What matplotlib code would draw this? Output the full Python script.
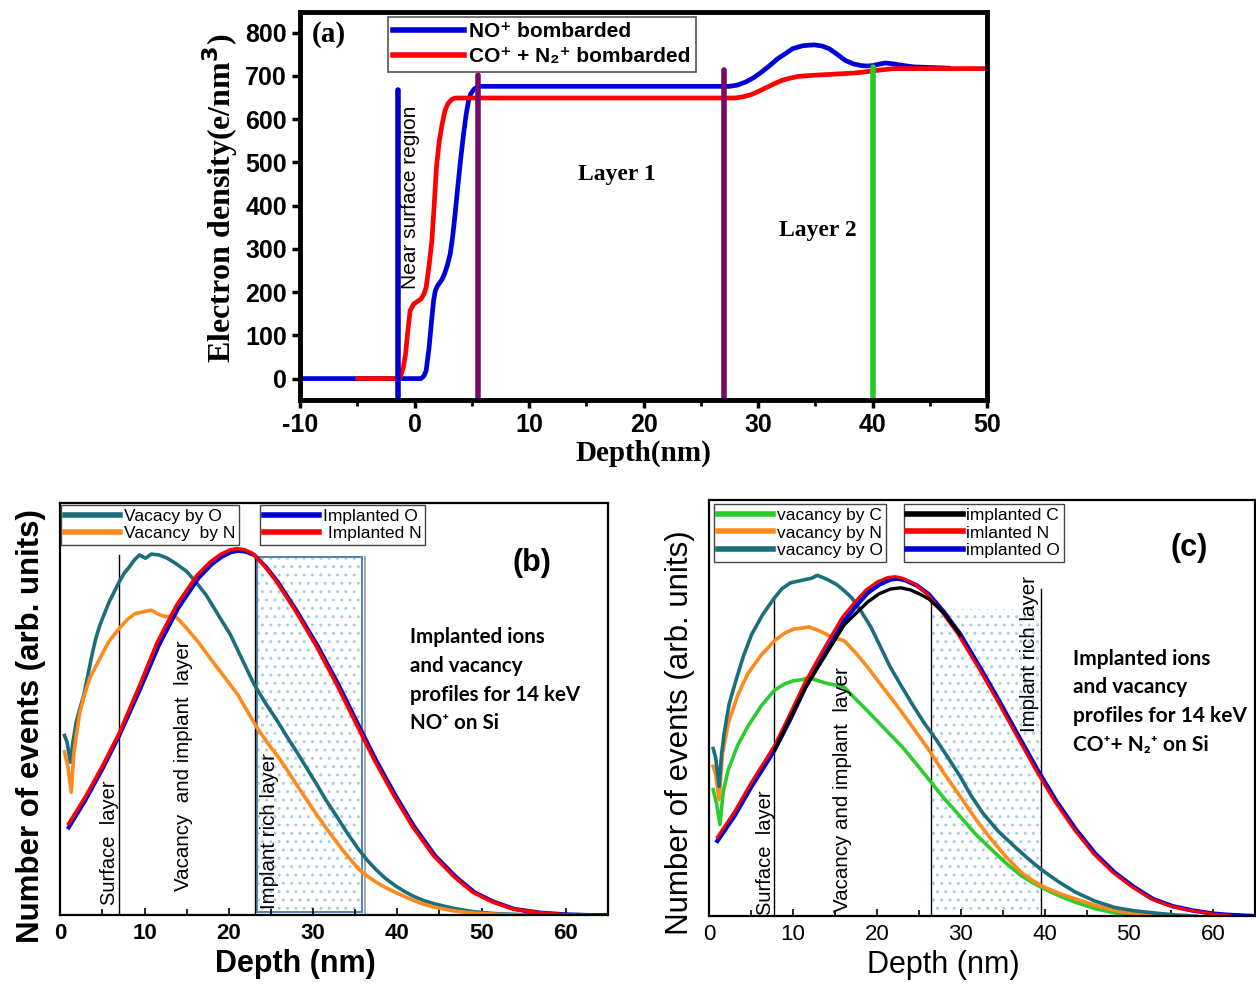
import matplotlib
matplotlib.use("Agg")
import matplotlib.pyplot as plt
from matplotlib.patches import Rectangle
from matplotlib.lines import Line2D

plt.rcParams['font.family'] = ['Liberation Sans', 'DejaVu Sans']
plt.rcParams['hatch.linewidth'] = 1.0
plt.rcParams['axes.unicode_minus'] = False

# ---------------- panel (a) data : electron density vs depth ----------------
a_x_no = [-10, 0.55, 0.8, 1.0, 1.25, 1.5, 1.65, 1.8, 2.0, 2.2, 2.4, 2.6, 2.85, 3.1, 3.3, 3.5,
          3.75, 4.0, 4.25, 4.5, 4.7, 4.9, 5.2, 5.6, 27.5, 28.2, 28.9, 29.6, 30.3, 31.0, 31.7,
          32.4, 33.0, 33.9, 34.9, 35.6, 36.2, 36.9, 37.6, 38.3, 39.0, 39.5, 40.0, 40.5, 41.1,
          41.8, 42.7, 43.6, 44.6, 46.7]
a_y_no = [0, 0, 6, 18, 70, 141, 180, 203, 215, 222, 230, 242, 262, 288, 325, 373,
          440, 504, 562, 612, 642, 659, 670, 676, 676, 679, 686, 696, 709, 724, 740,
          752, 763, 770, 772, 769, 763, 750, 736, 728, 724, 723, 724, 727, 730,
          728, 724, 721, 720, 718]
a_x_co = [-5, -1.3, -1.0, -0.8, -0.6, -0.4, -0.1, 0.1, 0.55, 0.8, 1.0, 1.25, 1.5, 1.7, 1.9,
          2.15, 2.4, 2.65, 2.9, 3.2, 3.5, 28.0, 28.7, 29.4, 30.0, 30.7, 31.4, 32.1, 32.8,
          33.5, 34.5, 35.8, 37.2, 38.5, 39.5, 40.4, 41.1, 41.8, 50]
a_y_co = [0, 0, 25, 56, 110, 157, 172, 176, 184, 195, 211, 260, 319, 400, 489,
          550, 589, 620, 636, 645, 649, 649, 652, 657, 664, 673, 682, 690, 695,
          699, 701, 703, 705, 707, 710, 713, 715, 717, 717]
a_vlines_x = [-1.5, 5.5, 27.0, 40.0]
a_vlines_top = [668, 702, 713, 720]
a_vlines_col = ['#0000cc', '#7a0a6a', '#7a0a6a', '#22cc22']

# ---------------- panel (b) data : NO+ on Si ----------------
b_x_vo = [0.5, 0.8, 1.2, 1.5, 1.9, 2.3, 2.8, 3.3, 3.8, 4.2, 4.7, 5.8, 7.0, 7.6, 8.2, 8.8, 9.4,
          10.1, 10.8, 11.7, 12.7, 13.8, 15.0, 16.1, 17.3, 18.7, 20.2, 21.6, 23.0, 24.4, 25.8,
          27.0, 28.1, 29.3, 30.5, 31.6, 32.8, 34.1, 35.4, 36.4, 37.5, 38.6, 39.8, 40.9, 42.0,
          43.2, 44.5, 46.8, 49.2, 51.5, 53.9, 57.0, 60.0]
b_y_vo = [0.436, 0.42, 0.371, 0.42, 0.469, 0.5, 0.534, 0.585, 0.635, 0.67, 0.704, 0.76, 0.809,
          0.83, 0.845, 0.862, 0.874, 0.866, 0.876, 0.874, 0.866, 0.852, 0.834, 0.808, 0.777,
          0.73, 0.680, 0.62, 0.56, 0.513, 0.47, 0.43, 0.395, 0.355, 0.315, 0.277, 0.24, 0.198,
          0.16, 0.134, 0.11, 0.089, 0.071, 0.057, 0.045, 0.035, 0.027, 0.016, 0.008, 0.004,
          0.002, 0.001, 0.0]
b_x_vn = [0.5, 0.9, 1.3, 1.6, 1.9, 2.3, 2.8, 3.5, 4.7, 5.8, 7.0, 8.0, 8.9, 9.9, 10.8, 11.4,
          12.0, 12.7, 13.5, 14.2, 15.0, 16.4, 17.8, 19.4, 21.1, 22.2, 23.4, 24.7, 26.0, 27.0,
          28.1, 29.3, 30.5, 31.6, 32.8, 34.1, 35.4, 36.4, 37.5, 38.6, 39.8, 40.9, 42.0, 43.2,
          44.5, 46.8, 49.2, 52.0, 55.0]
b_y_vn = [0.396, 0.36, 0.298, 0.39, 0.436, 0.49, 0.53, 0.575, 0.623, 0.665, 0.696, 0.718,
          0.732, 0.736, 0.740, 0.733, 0.727, 0.724, 0.728, 0.714, 0.696, 0.662, 0.623, 0.58,
          0.534, 0.495, 0.453, 0.415, 0.38, 0.35, 0.315, 0.278, 0.242, 0.21, 0.177, 0.143,
          0.112, 0.095, 0.08, 0.067, 0.055, 0.045, 0.035, 0.026, 0.019, 0.01, 0.005, 0.002, 0.0]
b_x_io = [1.0, 3.0, 5.0, 7.0, 9.4, 11.7, 14.0, 16.4, 18.0, 19.2, 20.3, 21.1, 22.0, 23.0, 24.4,
          25.8, 28.0, 30.5, 33.0, 35.2, 37.5, 39.8, 42.0, 44.5, 47.0, 49.2, 51.5, 53.9, 57.0,
          60.0, 63.0, 65.0]
b_y_io = [0.213, 0.28, 0.355, 0.436, 0.545, 0.655, 0.745, 0.818, 0.852, 0.870, 0.881, 0.884,
          0.882, 0.874, 0.845, 0.809, 0.74, 0.655, 0.56, 0.469, 0.375, 0.290, 0.215, 0.144,
          0.092, 0.055, 0.032, 0.015, 0.006, 0.002, 0.0, 0.0]
b_x_in = [1.0, 3.0, 5.0, 7.0, 9.3, 11.5, 13.8, 16.2, 17.8, 19.0, 20.1, 20.9, 21.8, 22.8, 24.2,
          25.6, 27.8, 30.3, 32.8, 35.0, 37.3, 39.6, 41.8, 44.3, 46.8, 49.0, 51.3, 53.7, 56.8,
          60.0, 63.0]
b_y_in = [0.222, 0.288, 0.362, 0.442, 0.552, 0.662, 0.752, 0.824, 0.857, 0.875, 0.886, 0.889,
          0.887, 0.878, 0.848, 0.811, 0.742, 0.656, 0.56, 0.469, 0.375, 0.290, 0.215, 0.144,
          0.092, 0.055, 0.032, 0.015, 0.006, 0.001, 0.0]

# ---------------- panel (c) data : CO+ + N2+ on Si ----------------
c_x_vc = [0.5, 0.9, 1.3, 1.7, 2.3, 3.4, 4.6, 6.2, 7.8, 9.0, 10.1, 11.0, 11.9, 13.1, 14.3, 15.2,
          16.1, 17.3, 18.4, 19.6, 20.7, 21.9, 23.0, 24.6, 26.2, 28.0, 29.9, 31.7, 33.6, 35.4,
          37.2, 38.6, 40.0, 41.8, 43.7, 46.0, 48.3, 50.0, 52.0]
c_y_vc = [0.304, 0.27, 0.22, 0.3, 0.352, 0.41, 0.455, 0.505, 0.543, 0.558, 0.566, 0.568, 0.573,
          0.565, 0.558, 0.555, 0.55, 0.525, 0.503, 0.478, 0.455, 0.43, 0.407, 0.368, 0.328,
          0.283, 0.24, 0.198, 0.161, 0.127, 0.097, 0.08, 0.065, 0.048, 0.033, 0.018, 0.008,
          0.003, 0.0]
c_x_vn = [0.5, 0.8, 1.2, 1.6, 2.3, 3.4, 4.6, 6.2, 7.8, 9.0, 10.1, 11.0, 11.9, 13.1, 14.3, 15.2,
          16.1, 17.5, 18.9, 20.7, 22.5, 24.4, 26.2, 28.0, 29.9, 31.7, 33.6, 35.4, 37.2, 38.6,
          40.0, 41.8, 43.7, 46.0, 48.3, 50.6, 52.9, 56.0]
c_y_vn = [0.36, 0.34, 0.28, 0.39, 0.463, 0.53, 0.582, 0.627, 0.662, 0.68, 0.690, 0.692, 0.695,
          0.686, 0.674, 0.667, 0.662, 0.632, 0.598, 0.55, 0.503, 0.45, 0.399, 0.343, 0.288,
          0.235, 0.185, 0.142, 0.105, 0.085, 0.069, 0.054, 0.041, 0.026, 0.014, 0.007, 0.003,
          0.0]
c_x_vo = [0.5, 0.8, 1.2, 1.5, 1.8, 2.4, 3.2, 4.1, 5.1, 6.4, 7.8, 8.7, 9.7, 10.6, 11.5, 12.2,
          12.9, 14.0, 15.2, 16.1, 17.0, 18.1, 19.3, 20.4, 21.6, 23.0, 24.4, 25.7, 27.1, 28.5,
          29.9, 31.2, 32.6, 34.4, 36.3, 37.9, 39.5, 41.6, 43.7, 46.0, 48.3, 50.6, 52.9, 55.5,
          58.0]
c_y_vo = [0.403, 0.38, 0.312, 0.39, 0.439, 0.51, 0.566, 0.625, 0.678, 0.725, 0.765, 0.787,
          0.801, 0.805, 0.809, 0.812, 0.819, 0.81, 0.797, 0.782, 0.765, 0.733, 0.694, 0.648,
          0.598, 0.55, 0.503, 0.462, 0.423, 0.38, 0.336, 0.29, 0.248, 0.205, 0.169, 0.14, 0.113,
          0.083, 0.057, 0.036, 0.021, 0.013, 0.008, 0.003, 0.0]
c_x_io = [1.0, 3.0, 5.0, 7.8, 9.6, 11.5, 13.8, 16.1, 17.5, 18.9, 20.3, 21.6, 22.5, 23.4, 24.8,
          26.2, 28.0, 29.9, 32.2, 34.5, 36.8, 39.1, 41.4, 43.7, 46.0, 48.3, 50.6, 52.9, 55.2,
          57.5, 60.0, 62.0, 65.0]
c_y_io = [0.181, 0.24, 0.31, 0.399, 0.47, 0.551, 0.63, 0.71, 0.745, 0.777, 0.797, 0.809, 0.811,
          0.807, 0.794, 0.773, 0.73, 0.678, 0.6, 0.519, 0.435, 0.352, 0.275, 0.208, 0.15,
          0.105, 0.07, 0.041, 0.024, 0.014, 0.006, 0.003, 0.0]
c_x_in = [1.0, 3.0, 5.0, 7.8, 9.5, 11.4, 13.6, 15.9, 17.3, 18.7, 20.1, 21.3, 22.2, 23.1, 24.5,
          25.9, 27.7, 29.6, 32.0, 34.3, 36.6, 38.9, 41.2, 43.5, 45.8, 48.1, 50.4, 52.7, 55.0,
          57.3, 60.0, 62.0]
c_y_in = [0.19, 0.25, 0.32, 0.41, 0.48, 0.561, 0.64, 0.719, 0.753, 0.784, 0.804, 0.814, 0.816,
          0.812, 0.798, 0.776, 0.732, 0.679, 0.6, 0.519, 0.435, 0.352, 0.275, 0.208, 0.15,
          0.105, 0.07, 0.041, 0.024, 0.014, 0.005, 0.002]
c_x_ic = [7.8, 11.5, 16.1, 18.9, 20.3, 21.6, 22.8, 24.0, 25.2, 26.2, 28.0, 29.9]
c_y_ic = [0.40, 0.55, 0.70, 0.755, 0.775, 0.786, 0.789, 0.784, 0.773, 0.762, 0.728, 0.676]

teal = '#1b6f7c'
orange = '#ff8a1c'
green = '#2ccc2c'
blue = '#0000d8'
red = '#ff0000'

fig = plt.figure(figsize=(12.56, 9.98), dpi=100)

# ======================= (a) =======================
ax = fig.add_axes([0.239, 0.599, 0.547, 0.389])
ax.plot(a_x_no, a_y_no, color=blue, lw=3.4, solid_capstyle='round', solid_joinstyle='round')
ax.plot(a_x_co, a_y_co, color=red, lw=3.4, solid_capstyle='round', solid_joinstyle='round')
for xv, top, col in zip(a_vlines_x, a_vlines_top, a_vlines_col):
    ax.plot([xv, xv], [-50, top], color=col, lw=4, solid_capstyle='round')
ax.set_xlim(-10, 50)
ax.set_ylim(-50, 848)
ax.set_xticks(range(-10, 51, 10))
ax.set_xticks(range(-5, 51, 10), minor=True)
ax.set_yticks(range(0, 801, 100))
ax.tick_params(axis='both', which='major', direction='out', length=6, width=2.5, labelsize=18)
ax.tick_params(axis='x', which='minor', direction='out', length=4, width=2)
for lab in ax.get_xticklabels() + ax.get_yticklabels():
    lab.set_fontweight('bold')
for sp in ax.spines.values():
    sp.set_linewidth(3.5)
ax.set_xlabel('Depth(nm)', family='Liberation Serif', fontweight='bold', fontsize=21, labelpad=2)
ax.set_ylabel(r'Electron density(e/nm$\mathbf{^{3}}$)', family='Liberation Serif',
              fontweight='bold', fontsize=23, labelpad=4, y=0.52)
ax.text(-7.5, 795, '(a)', family='Liberation Serif', fontweight='bold', fontsize=21,
        ha='center', va='center')
ax.text(17.7, 473, 'Layer 1', family='Liberation Serif', fontweight='bold', fontsize=17,
        ha='center', va='center')
ax.text(35.2, 342, 'Layer 2', family='Liberation Serif', fontweight='bold', fontsize=17,
        ha='center', va='center')
ax.text(-0.4, 420, 'Near surface region', rotation=90, fontsize=15, ha='center', va='center')
h_a = [Line2D([], [], color=blue, lw=4), Line2D([], [], color=red, lw=4)]
leg = ax.legend(h_a, ['NO⁺ bombarded', 'CO⁺ + N₂⁺ bombarded'], loc='upper left',
                bbox_to_anchor=(0.128, 0.987), fancybox=False, edgecolor='#555555',
                framealpha=1, handlelength=3.4, borderpad=0.25, labelspacing=0.3,
                handletextpad=0.25, borderaxespad=0, prop={'weight': 'bold', 'size': 15})
leg.get_frame().set_linewidth(1.2)


def style_bottom(ax, bold, ylab_y):
    ax.set_xlim(0, 65)
    ax.set_ylim(0, 1)
    ax.set_yticks([])
    ax.set_xticks(range(0, 61, 10))
    ax.set_xticks(range(5, 66, 10), minor=True)
    ax.tick_params(axis='x', which='major', direction='in', length=5, width=1.2,
                   labelsize=16, pad=6)
    ax.tick_params(axis='x', which='minor', direction='in', length=4, width=1.2)
    for lab in ax.get_xticklabels():
        lab.set_fontweight('bold' if bold else 'normal')
    for sp in ax.spines.values():
        sp.set_linewidth(1.6)
    w = 'bold' if bold else 'normal'
    ax.set_xlabel('Depth (nm)', fontsize=22, fontweight=w, labelpad=3, x=0.43)
    ax.set_ylabel('Number of events (arb. units)', fontsize=22.5, fontweight=w,
                  labelpad=10, y=ylab_y)


def two_legends(ax, h1, l1, h2, l2, x1, x2, ytop):
    kw = dict(loc='upper left', fancybox=False, edgecolor='#444444', framealpha=1,
              handlelength=3.2, borderpad=0.2, labelspacing=0.15, handletextpad=0.2,
              borderaxespad=0, prop={'size': 12.5})
    lg1 = ax.legend(h1, l1, bbox_to_anchor=(x1, ytop), **kw)
    lg1.get_frame().set_linewidth(1.0)
    ax.add_artist(lg1)
    lg2 = ax.legend(h2, l2, bbox_to_anchor=(x2, ytop), **kw)
    lg2.get_frame().set_linewidth(1.0)


# ======================= (b) =======================
ax = fig.add_axes([0.048, 0.083, 0.436, 0.413])
ax.add_patch(Rectangle((23.3, 0.008), 12.5, 0.862, facecolor='none', edgecolor='#a8cce8',
                       hatch='..', lw=0))
ax.add_patch(Rectangle((23.3, 0.008), 12.5, 0.862, facecolor='none', edgecolor='#5b86b0', lw=1.5))
ax.plot([36.2, 36.2], [0, 0.87], color='#999999', lw=1.2)
ax.plot([7.0, 7.0], [0, 0.874], color='black', lw=1)
ax.plot([23.1, 23.1], [0, 0.874], color='black', lw=1)
ax.plot(b_x_vo, b_y_vo, color=teal, lw=2.6)
ax.plot(b_x_vn, b_y_vn, color=orange, lw=2.6)
ax.plot(b_x_io, b_y_io, color=blue, lw=3)
ax.plot(b_x_in, b_y_in, color=red, lw=2.6)
style_bottom(ax, True, 0.46)
ax.text(5.8, 0.177, 'Surface  layer', rotation=90, fontsize=14.5, ha='center', va='center')
ax.text(14.6, 0.363, 'Vacancy  and implant  layer', rotation=90, fontsize=14.8,
        ha='center', va='center')
ax.text(24.8, 0.205, 'Implant rich layer', rotation=90, fontsize=14.8, ha='center', va='center')
ax.text(56, 0.855, '(b)', fontsize=22, fontweight='bold', ha='center', va='center')
ax.text(41.5, 0.57, 'Implanted ions\nand vacancy\nprofiles for 14 keV\nNO⁺ on Si',
        family=['Lato', 'DejaVu Sans'], fontweight='bold', fontsize=14.8, linespacing=1.55,
        ha='left', va='center')
two_legends(ax,
            [Line2D([], [], color=teal, lw=4), Line2D([], [], color=orange, lw=4)],
            ['Vacacy by O', 'Vacancy  by N'],
            [Line2D([], [], color=blue, lw=4), Line2D([], [], color=red, lw=4)],
            ['Implanted O', ' Implanted N'],
            0.002, 0.365, 0.995)

# ======================= (c) =======================
ax = fig.add_axes([0.5645, 0.082, 0.4345, 0.417])
ax.add_patch(Rectangle((26.4, 0.0), 13.1, 0.737, facecolor='none', edgecolor='#a8cce8',
                       hatch='..', lw=0))
ax.plot([7.7, 7.7], [0, 0.765], color='black', lw=1)
ax.plot([26.4, 26.4], [0, 0.765], color='black', lw=1)
ax.plot([39.5, 39.5], [0, 0.785], color='black', lw=1)
ax.plot(c_x_vc, c_y_vc, color=green, lw=2.6)
ax.plot(c_x_vn, c_y_vn, color=orange, lw=2.6)
ax.plot(c_x_vo, c_y_vo, color=teal, lw=2.6)
ax.plot(c_x_io, c_y_io, color=blue, lw=3.2)
ax.plot(c_x_in, c_y_in, color=red, lw=2.2)
ax.plot(c_x_ic, c_y_ic, color='black', lw=2.4)
style_bottom(ax, False, 0.44)
ax.text(6.7, 0.153, 'Surface  layer', rotation=90, fontsize=14.5, ha='center', va='center')
ax.text(15.9, 0.304, 'Vacancy and implant  layer', rotation=90, fontsize=14.8,
        ha='center', va='center')
ax.text(38.2, 0.63, 'Implant rich layer', rotation=90, fontsize=14.8, ha='center', va='center')
ax.text(57.2, 0.885, '(c)', fontsize=22, fontweight='bold', ha='center', va='center')
ax.text(43.4, 0.515, 'Implanted ions\nand vacancy\nprofiles for 14 keV\nCO⁺+ N₂⁺ on Si',
        family=['Lato', 'DejaVu Sans'], fontweight='bold', fontsize=15, linespacing=1.55,
        ha='left', va='center')
two_legends(ax,
            [Line2D([], [], color=green, lw=4), Line2D([], [], color=orange, lw=4),
             Line2D([], [], color=teal, lw=4)],
            ['vacancy by C', 'vacancy by N', 'vacancy by O'],
            [Line2D([], [], color='black', lw=4), Line2D([], [], color=red, lw=4),
             Line2D([], [], color=blue, lw=4)],
            ['implanted C', 'imlanted N', 'implanted O'],
            0.01, 0.357, 0.99)

fig.savefig('out.png', dpi=100)
